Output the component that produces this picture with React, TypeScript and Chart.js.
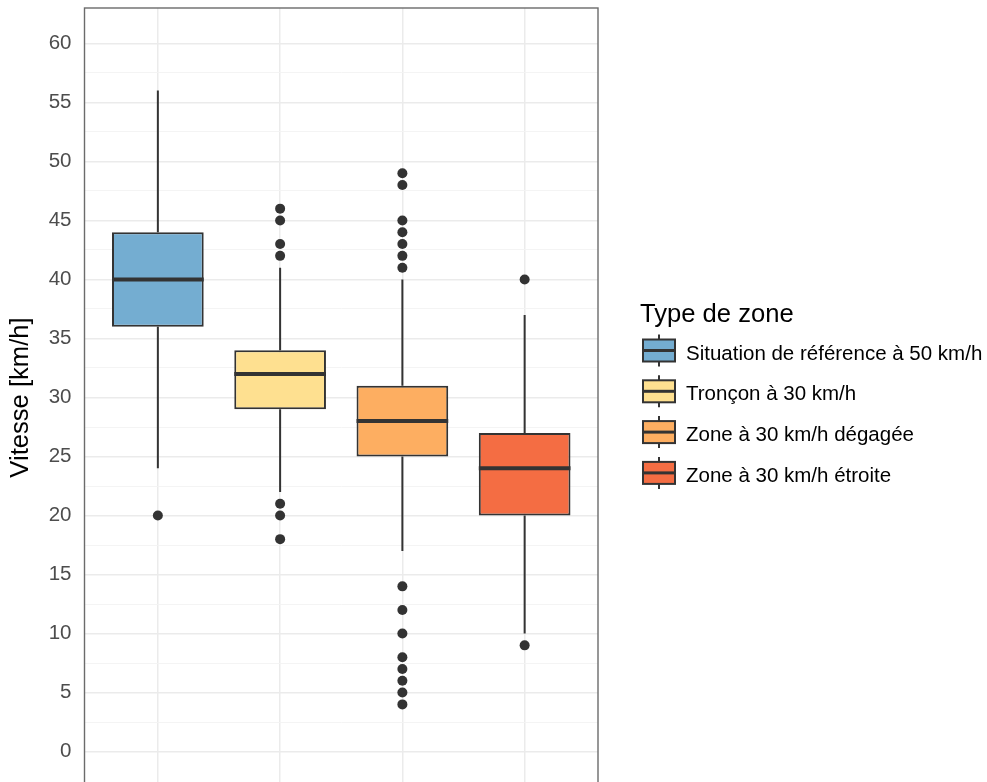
import React, { useEffect, useRef } from "react";
import { Chart, registerables } from "chart.js";

Chart.register(...registerables);

// ---------------- data ----------------
const zones = [
  "Situation de référence à 50 km/h",
  "Tronçon à 30 km/h",
  "Zone à 30 km/h dégagée",
  "Zone à 30 km/h étroite",
];
const colors = ["#74ADD1", "#FEE090", "#FDAE61", "#F46D43"];
const whiskerLow = [24, 22, 17, 10];
const q1 = [36, 29, 25, 20];
const median = [40, 32, 28, 24];
const q3 = [44, 34, 31, 27];
const whiskerHigh = [56, 41, 40, 37];
const outliers = [
  [20],
  [18, 20, 21, 42, 43, 45, 46],
  [4, 5, 6, 7, 8, 10, 12, 14, 41, 42, 43, 44, 45, 48, 49],
  [9, 40],
];
const yMajorTicks = [0, 5, 10, 15, 20, 25, 30, 35, 40, 45, 50, 55, 60];
const yMinorTicks = [2.5, 7.5, 12.5, 17.5, 22.5, 27.5, 32.5, 37.5, 42.5, 47.5, 52.5, 57.5];
const yTitle = "Vitesse [km/h]";
const legendTitle = "Type de zone";

// ---------------- style ----------------
const FONT = "'Liberation Sans', Arial, Helvetica, sans-serif";
const DARK = "#333333";
const BOX_HALF = 0.375;

const xPos = zones.map((_, i) => i + 1);

const boxData = zones.map((_, i) => ({ x: xPos[i], y: [q1[i], q3[i]] }));

const whiskerData: any[] = [];
zones.forEach((_, i) => {
  whiskerData.push({ x: xPos[i], y: whiskerLow[i] });
  whiskerData.push({ x: xPos[i], y: q1[i] });
  whiskerData.push({ x: xPos[i], y: null });
  whiskerData.push({ x: xPos[i], y: q3[i] });
  whiskerData.push({ x: xPos[i], y: whiskerHigh[i] });
  whiskerData.push({ x: xPos[i], y: null });
});

const medianData: any[] = [];
zones.forEach((_, i) => {
  medianData.push({ x: xPos[i] - BOX_HALF, y: median[i] });
  medianData.push({ x: xPos[i] + BOX_HALF, y: median[i] });
  medianData.push({ x: xPos[i] + BOX_HALF, y: null });
});

const outlierData: any[] = [];
outliers.forEach((arr, i) => arr.forEach((v) => outlierData.push({ x: xPos[i], y: v })));

const allYTicks = [...yMajorTicks, ...yMinorTicks].sort((a, b) => a - b);
const majorSet = new Set(yMajorTicks);

const panelAndLegend = {
  id: "panelAndLegend",
  afterDatasetsDraw(chart: any) {
    const { ctx, chartArea: a } = chart;
    ctx.save();
    // panel border
    ctx.strokeStyle = "#6b6b6b";
    ctx.lineWidth = 1.4;
    ctx.strokeRect(a.left, a.top, a.right - a.left, a.bottom - a.top);

    // legend
    const mid = (a.top + a.bottom) / 2;
    const titleX = a.right + 42;
    ctx.fillStyle = "#000";
    ctx.textAlign = "left";
    ctx.textBaseline = "alphabetic";
    ctx.font = `25.6px ${FONT}`;
    ctx.fillText(legendTitle, titleX, mid - 75.8);

    ctx.font = `20.5px ${FONT}`;
    zones.forEach((z, i) => {
      const cy = mid - 47 + i * 40.8;
      const bx = a.right + 45;
      const bw = 32;
      const bh = 22;
      const cx = bx + bw / 2;
      // whisker ticks
      ctx.strokeStyle = DARK;
      ctx.lineWidth = 2;
      ctx.beginPath();
      ctx.moveTo(cx, cy - bh / 2 - 5);
      ctx.lineTo(cx, cy + bh / 2 + 5);
      ctx.stroke();
      // box
      ctx.fillStyle = colors[i];
      ctx.fillRect(bx, cy - bh / 2, bw, bh);
      ctx.lineWidth = 2;
      ctx.strokeRect(bx, cy - bh / 2, bw, bh);
      // median
      ctx.lineWidth = 3;
      ctx.beginPath();
      ctx.moveTo(bx, cy);
      ctx.lineTo(bx + bw, cy);
      ctx.stroke();
      // text
      ctx.fillStyle = "#000";
      ctx.fillText(z, a.right + 88, cy + 9);
    });
    ctx.restore();
  },
};

export default function App() {
  const ref = useRef<HTMLCanvasElement | null>(null);

  useEffect(() => {
    document.body.style.margin = "0";
    document.body.style.overflow = "hidden";
    const canvas = ref.current;
    if (!canvas) return;
    const chart = new Chart(canvas, {
      type: "bar",
      data: {
        datasets: [
          {
            type: "bar",
            label: "box",
            data: boxData as any,
            backgroundColor: colors,
            borderColor: DARK,
            borderWidth: 2,
            borderSkipped: false,
            categoryPercentage: 1,
            barPercentage: 0.75,
            order: 3,
          } as any,
          {
            type: "line",
            label: "whiskers",
            data: whiskerData,
            borderColor: DARK,
            borderWidth: 2,
            pointRadius: 0,
            spanGaps: false,
            order: 2,
          } as any,
          {
            type: "line",
            label: "median",
            data: medianData,
            borderColor: DARK,
            borderWidth: 4,
            pointRadius: 0,
            spanGaps: false,
            order: 1,
          } as any,
          {
            type: "line",
            label: "outliers",
            data: outlierData,
            showLine: false,
            pointRadius: 5,
            pointBackgroundColor: DARK,
            pointBorderWidth: 0,
            borderWidth: 0,
            order: 0,
          } as any,
        ],
      },
      options: {
        responsive: false,
        devicePixelRatio: 1,
        animation: false,
        layout: { padding: { left: 0, right: 389, top: 8, bottom: 13 } },
        plugins: {
          legend: { display: false },
          tooltip: { enabled: false },
          title: { display: false },
        },
        scales: {
          x: {
            type: "linear",
            min: 0.4,
            max: 4.6,
            offset: false,
            afterBuildTicks: (s: any) => {
              s.ticks = xPos.map((v) => ({ value: v }));
            },
            afterFit: (s: any) => {
              s.height = 0;
              s.paddingLeft = 0;
              s.paddingRight = 0;
              s.paddingTop = 0;
              s.paddingBottom = 0;
            },
            ticks: { display: false },
            grid: { color: "#EBEBEB", lineWidth: 1.5, drawTicks: false, offset: false },
            border: { display: false },
          },
          y: {
            type: "linear",
            min: -3,
            max: 63,
            afterBuildTicks: (s: any) => {
              s.ticks = allYTicks.map((v) => ({ value: v }));
            },
            afterFit: (s: any) => {
              s.width = 84.5;
              s.paddingTop = 0;
              s.paddingBottom = 0;
              s.paddingLeft = 0;
              s.paddingRight = 0;
            },
            ticks: {
              autoSkip: false,
              padding: 13,
              color: "#4D4D4D",
              font: { family: FONT, size: 20.5 },
              callback: (v: any) => (majorSet.has(Number(v)) ? String(v) : ""),
            },
            grid: {
              drawTicks: false,
              color: (c: any) => (majorSet.has(c.tick?.value) ? "#EBEBEB" : "#F3F3F3"),
              lineWidth: (c: any) => (majorSet.has(c.tick?.value) ? 1.5 : 0.9),
            },
            border: { display: false },
            title: {
              display: true,
              text: yTitle,
              color: "#000",
              font: { family: FONT, size: 25.6 },
              padding: { top: 6, bottom: 0 },
            },
          },
        },
      },
      plugins: [panelAndLegend],
    } as any);
    return () => chart.destroy();
  }, []);

  return (
    <div style={{ width: 987, height: 800, position: "relative" }}>
      <canvas ref={ref} width={987} height={800} style={{ display: "block" }} />
    </div>
  );
}
